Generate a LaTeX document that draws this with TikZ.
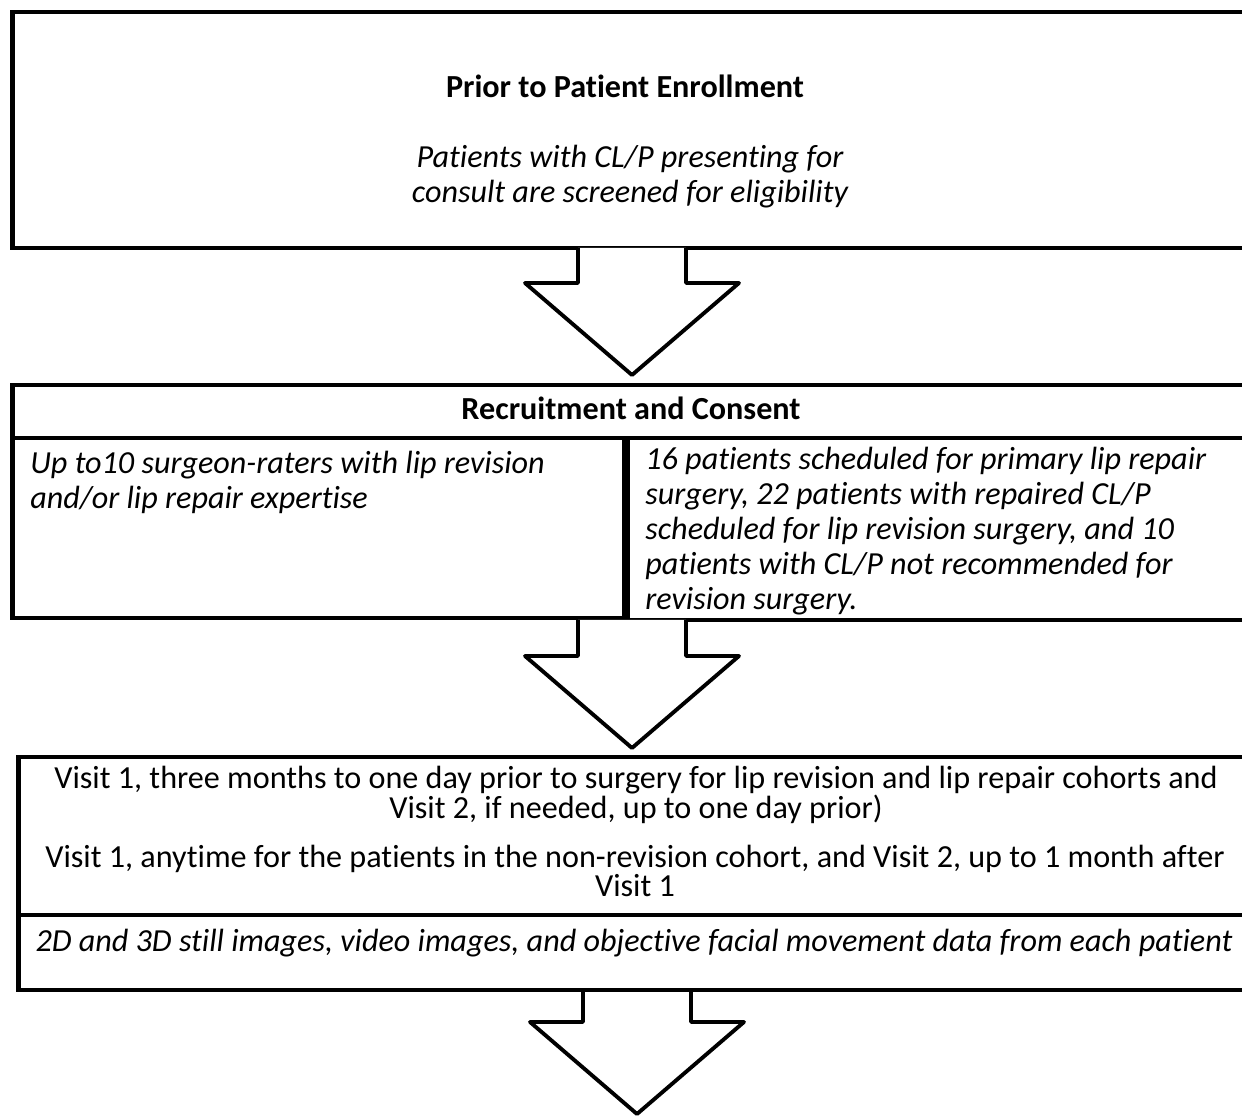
\documentclass[tikz,border=0pt]{standalone}
\usepackage{fontspec}
\setmainfont{Carlito}[Ligatures=NoCommon]
\usetikzlibrary{calc}

\tikzstyle{stage-box}=[rectangle,
                       draw=black,
                       line width=2.8pt,
                       outer sep=0pt,
                       inner sep=0pt,
                      ]
\tikzstyle{stage-title}=[inner sep=0pt, font=\fontsize{18.3}{20}\selectfont\bfseries]
\tikzstyle{stage-note}=[inner sep=0pt, font=\fontsize{18.3}{19.9}\selectfont\itshape]
\tikzstyle{visit-note}=[inner sep=0pt, align=center, font=\fontsize{18.3}{15.4}\selectfont]
\tikzstyle{flow-arrow}=[draw=black, fill=white, line width=2.2pt, line join=round]

% block arrow from the bottom of a box (#1) down to a tip (#2)
\newcommand{\flowarrow}[2]{%
  \path (#2) ++(0,-92) coordinate (fa-head);
  \draw[flow-arrow] ($(#1 -| #2)+(-54,0)$) -- ($(fa-head)+(-54,0)$) -- ($(fa-head)+(-107,0)$)
                 -- (#2) -- ($(fa-head)+(107,0)$) -- ($(fa-head)+(54,0)$) -- ($(#1 -| #2)+(54,0)$);
}

\begin{document}
\begin{tikzpicture}[x=0.02cm, y=-0.02cm]
\useasboundingbox (0,0) rectangle (1242,1118);

\node at (632,   130)   (prior)    [stage-box, minimum width=24.8cm,  minimum height=4.72cm] {};
\node at (632,   411.5) (recruit)  [stage-box, minimum width=24.8cm,  minimum height=1.06cm] {};
\node at (318.5, 528)   (raters)   [stage-box, minimum width=12.26cm, minimum height=3.6cm]  {};
\node at (939.5, 529)   (patients) [stage-box, minimum width=12.5cm,  minimum height=3.64cm] {};

\node at (625, 86)  (prior_title) [stage-title] {Prior to Patient Enrollment};
\node at (630, 177) (prior_note)  [stage-note, align=center] {Patients with CL/P presenting for\\consult are screened for eligibility};

\node at (631, 408) (recruit_title) [stage-title] {Recruitment and Consent};
\node at (30, 482)  (raters_note)   [stage-note, anchor=west, align=left] {Up to10 surgeon-raters with lip revision\\and/or lip repair expertise};
\node at (645, 531) (patients_note) [stage-note, anchor=west, align=left] {16 patients scheduled for primary lip repair\\surgery, 22 patients with repaired CL/P\\scheduled for lip revision surgery, and 10\\patients with CL/P not recommended for\\revision surgery.};

\coordinate (tip1) at (632, 375);
\coordinate (tip2) at (632, 748);
\coordinate (tip3) at (637, 1114);
\coordinate (capture_base) at (635, 990);

\flowarrow{prior.south}{tip1}
\flowarrow{patients.south}{tip2}
\flowarrow{capture_base}{tip3}

\node at (635, 836)   (visit)    [stage-box, minimum width=24.68cm, minimum height=3.16cm] {};
\node at (635, 952.5) (capture)  [stage-box, minimum width=24.68cm, minimum height=1.5cm]  {};

\node at (636, 795) (visit_one) [visit-note] {Visit 1, three months to one day prior to surgery for lip revision and lip repair cohorts and\\Visit 2, if needed, up to one day prior)};
\node at (635, 871) (visit_two) [visit-note] {Visit 1, anytime for the patients in the non-revision cohort, and Visit 2, up to 1 month after\\Visit 1};
\node at (634, 943) (capture_note) [stage-note] {2D and 3D still images, video images, and objective facial movement data from each patient};
\end{tikzpicture}
\end{document}
